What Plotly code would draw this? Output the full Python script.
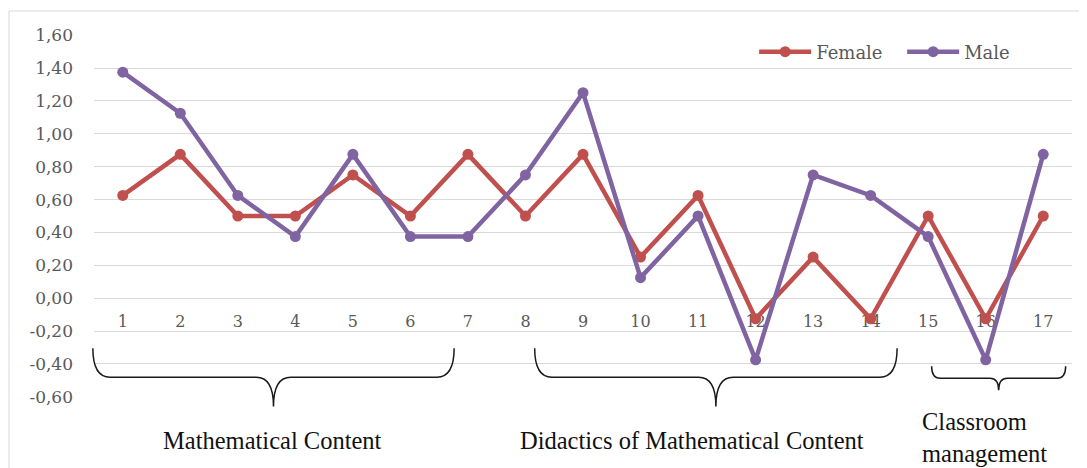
import plotly.graph_objects as go

# ---- data ----
items = list(range(1, 18))
item_labels = [str(i) for i in items]
female = [0.625, 0.875, 0.5, 0.5, 0.75, 0.5, 0.875, 0.5, 0.875, 0.25, 0.625,
          -0.125, 0.25, -0.125, 0.5, -0.125, 0.5]
male = [1.375, 1.125, 0.625, 0.375, 0.875, 0.375, 0.375, 0.75, 1.25, 0.125, 0.5,
        -0.375, 0.75, 0.625, 0.375, -0.375, 0.875]
y_ticks = [-0.6, -0.4, -0.2, 0.0, 0.2, 0.4, 0.6, 0.8, 1.0, 1.2, 1.4, 1.6]
y_ticktext = [f"{v:.2f}".replace(".", ",") for v in y_ticks]
group_names = ["Mathematical Content", "Didactics of Mathematical Content",
               "Classroom<br>management"]
group_first = [1, 8, 15]
group_last = [7, 14, 17]

# ---- layout constants (page body adds an 8px offset) ----
W, H = 1079, 460
ML, MR, MT, MB = 86, 15, 27, 71
YMIN, YMAX = -0.6, 1.6
XMIN, XMAX = 0.5, 17.5
PW, PH = W - ML - MR, H - MT - MB

def px(xd):
    return (xd - XMIN) / (XMAX - XMIN)

def py(yd):
    return (yd - YMIN) / (YMAX - YMIN)

FEMALE_C = "#C0504D"
MALE_C = "#8064A2"
TICK_C = "#595959"
GRID_C = "#D9D9D9"

fig = go.Figure()

# category labels (drawn first so lines go over them)
fig.add_trace(go.Scatter(
    x=items, y=[-0.152] * len(items), text=item_labels, mode="text",
    textposition="middle center",
    textfont=dict(family="DejaVu Serif", size=16, color=TICK_C),
    showlegend=False, hoverinfo="skip"))

fig.add_trace(go.Scatter(
    x=items, y=female, name="Female", mode="lines+markers",
    line=dict(color=FEMALE_C, width=4.5),
    marker=dict(color=FEMALE_C, size=11)))
fig.add_trace(go.Scatter(
    x=items, y=male, name="Male", mode="lines+markers",
    line=dict(color=MALE_C, width=4.5),
    marker=dict(color=MALE_C, size=11)))

shapes = []
# outer chart border
shapes.append(dict(type="rect", xref="paper", yref="paper",
                   x0=(1 - ML) / PW, x1=1.2,
                   y0=-0.5, y1=1 + (MT - 3) / PH,
                   line=dict(color=GRID_C, width=1), fillcolor="rgba(0,0,0,0)",
                   layer="below"))

# braces
brace_style = [
    dict(pad_l=0.52, pad_r=-0.24, top=-0.304, mid=-0.480, tip=-0.657, r=0.30),
    dict(pad_l=-0.16, pad_r=0.46, top=-0.304, mid=-0.480, tip=-0.657, r=0.30),
    dict(pad_l=-0.06, pad_r=0.39, top=-0.413, mid=-0.486, tip=-0.559, r=0.15),
]
for g0, g1, st in zip(group_first, group_last, brace_style):
    x0 = g0 - st["pad_l"]
    x1 = g1 + st["pad_r"]
    xm = (x0 + x1) / 2
    r = st["r"]
    yt, yh, yp = py(st["top"]), py(st["mid"]), py(st["tip"])
    path = (f"M {px(x0)},{yt} Q {px(x0)},{yh} {px(x0 + r)},{yh} "
            f"L {px(xm - r)},{yh} Q {px(xm)},{yh} {px(xm)},{yp} "
            f"Q {px(xm)},{yh} {px(xm + r)},{yh} "
            f"L {px(x1 - r)},{yh} Q {px(x1)},{yh} {px(x1)},{yt}")
    shapes.append(dict(type="path", xref="paper", yref="paper", path=path,
                       line=dict(color="#1a1a1a", width=1.5)))

label_font = dict(family="Liberation Serif", size=24.5, color="#111111")
annotations = [
    dict(x=px(3.61), y=py(-0.863), xref="paper", yref="paper", text=group_names[0],
         showarrow=False, xanchor="center", yanchor="middle", font=label_font),
    dict(x=px(10.89), y=py(-0.863), xref="paper", yref="paper", text=group_names[1],
         showarrow=False, xanchor="center", yanchor="middle", font=label_font),
    dict(x=px(14.86), y=py(-0.845), xref="paper", yref="paper", text=group_names[2],
         showarrow=False, xanchor="left", yanchor="middle", align="left",
         font=label_font),
]

fig.update_layout(
    width=W, height=H,
    margin=dict(l=ML, r=MR, t=MT, b=MB),
    paper_bgcolor="white", plot_bgcolor="white",
    showlegend=True,
    legend=dict(orientation="h", x=0.675, y=0.953, xanchor="left", yanchor="middle",
                itemwidth=52, entrywidth=81,
                font=dict(family="DejaVu Serif", size=18, color=TICK_C),
                bgcolor="rgba(0,0,0,0)"),
    xaxis=dict(range=[XMIN, XMAX], showgrid=False, zeroline=False,
               showticklabels=False, showline=False, ticks=""),
    yaxis=dict(range=[YMIN - 0.001, YMAX + 0.001], tickvals=y_ticks,
               ticktext=y_ticktext,
               showgrid=True, gridcolor=GRID_C, gridwidth=1, zeroline=False,
               showline=False, ticks="", ticklabelstandoff=20,
               tickfont=dict(family="DejaVu Serif", size=17, color=TICK_C)),
    shapes=shapes, annotations=annotations,
)

fig.write_html("out.html")
